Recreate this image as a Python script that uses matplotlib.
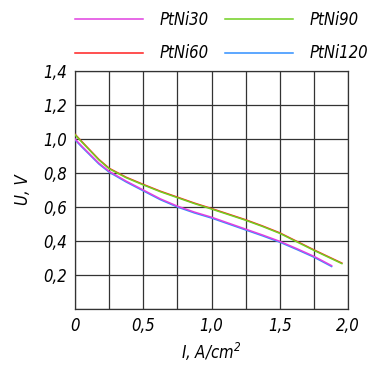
import matplotlib.pyplot as plt
import numpy as np

# current density, A/cm^2 and cell voltage, V
i_low = [0.0, 0.05, 0.1, 0.175, 0.25, 0.375, 0.5, 0.625, 0.75, 0.875,
         1.0, 1.125, 1.25, 1.375, 1.5, 1.625, 1.75, 1.88]
u_30 = [1.0, 0.958, 0.918, 0.858, 0.81, 0.752, 0.70, 0.648, 0.605, 0.57,
        0.54, 0.505, 0.47, 0.435, 0.398, 0.355, 0.31, 0.255]
u_120 = [0.995, 0.953, 0.913, 0.853, 0.805, 0.747, 0.695, 0.643, 0.60, 0.565,
         0.535, 0.50, 0.465, 0.43, 0.393, 0.35, 0.305, 0.25]

i_high = [0.0, 0.05, 0.1, 0.175, 0.25, 0.375, 0.5, 0.625, 0.75, 0.875,
          1.0, 1.125, 1.25, 1.375, 1.5, 1.625, 1.75, 1.955]
u_60 = [1.028, 0.985, 0.943, 0.88, 0.828, 0.775, 0.733, 0.693, 0.658, 0.623,
        0.591, 0.558, 0.525, 0.488, 0.448, 0.398, 0.348, 0.27]
u_90 = [1.025, 0.982, 0.94, 0.877, 0.825, 0.772, 0.73, 0.69, 0.655, 0.62,
        0.588, 0.555, 0.522, 0.485, 0.445, 0.395, 0.345, 0.267]

plt.rcParams["font.family"] = ["DejaVu Sans"]
plt.rcParams["font.style"] = "italic"
plt.rcParams["font.stretch"] = "condensed"

fig = plt.figure(figsize=(3.7, 3.69), dpi=100)
ax = fig.add_axes([75 / 370, 1 - 309 / 369, 273 / 370, 238 / 369])

ax.plot(i_low, u_120, color="#3090ff", lw=1.1, label="PtNi120", zorder=3)
ax.plot(i_high, u_60, color="#ff2020", lw=1.1, label="PtNi60", zorder=3)
ax.plot(i_high, u_90, color="#70d020", lw=1.1, label="PtNi90", zorder=4)
ax.plot(i_low, u_30, color="#e040e0", lw=1.1, label="PtNi30", zorder=4)

ax.set_xlim(0, 2.0)
ax.set_ylim(0, 1.4)
ax.set_xticks(np.arange(0, 2.01, 0.25))
ax.set_yticks(np.arange(0, 1.41, 0.2))
xlab = ["0", "", "0,5", "", "1,0", "", "1,5", "", "2,0"]
ylab = ["", "0,2", "0,4", "0,6", "0,8", "1,0", "1,2", "1,4"]
ax.set_xticklabels(xlab, fontsize=12)
ax.set_yticklabels(ylab, fontsize=12)
ax.tick_params(length=0, pad=6)
ax.grid(True, color="#333333", lw=0.9)
for s in ax.spines.values():
    s.set_color("#333333")
    s.set_linewidth(0.9)

ax.set_xlabel("I, A/cm$^2$", fontsize=12, labelpad=4)
ax.set_ylabel("U, V", fontsize=12, labelpad=8)

h, l = ax.get_legend_handles_labels()
order = [3, 1, 2, 0]
fig.legend([h[k] for k in order], [l[k] for k in order],
           loc="upper left", bbox_to_anchor=(60 / 370, 1.012), ncol=2,
           frameon=False, fontsize=12, handlelength=4.1, handletextpad=1.0,
           columnspacing=0.95, labelspacing=0.95)

fig.savefig("out.png", dpi=100)
